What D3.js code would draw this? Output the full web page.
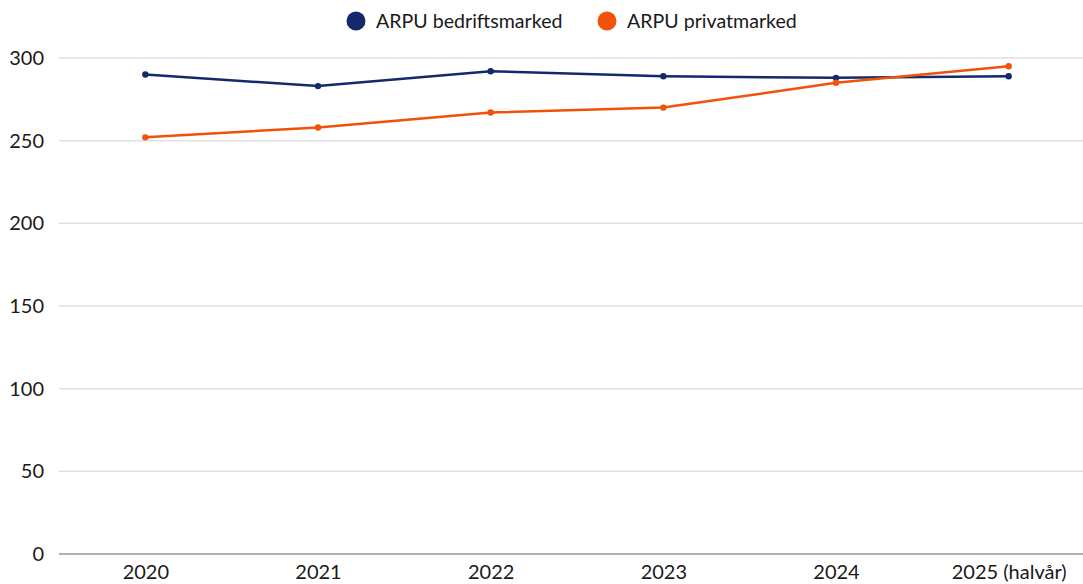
<!DOCTYPE html>
<html>
<head>
<meta charset="utf-8">
<script src="https://d3js.org/d3.v7.min.js"></script>
<style>
  body { margin: 0; background: #fff; font-family: Lato, sans-serif; overflow: hidden; }
  .grid line { stroke: #e0e0e0; stroke-width: 1.5px; }
  .tick text { fill: #1a1a1a; font-size: 20px; font-family: Lato, sans-serif; }
</style>
</head>
<body>
<div id="chart"></div>
<script>
var years = ["2020", "2021", "2022", "2023", "2024", "2025 (halvår)"];
var bedrift = [290, 283, 292, 289, 288, 289];
var privat = [252, 258, 267, 270, 285, 295];
var yTicks = [0, 50, 100, 150, 200, 250, 300];

var width = 1083, height = 584;
// plot area (note: "top" is reserved on window, so use other names)
var plotLeft = 59, plotRight = 1095, plotTop = 58, plotBottom = 554;

var svg = d3.select("#chart").append("svg")
  .attr("width", width)
  .attr("height", height);

var x = d3.scalePoint().domain(years).range([plotLeft, plotRight]).padding(0.5);
var y = d3.scaleLinear().domain([0, 300]).range([plotBottom, plotTop]);

// gridlines
svg.append("g")
  .attr("class", "grid")
  .selectAll("line")
  .data(yTicks.filter(function (d) { return d > 0; }))
  .enter().append("line")
  .attr("x1", plotLeft).attr("x2", width)
  .attr("y1", function (d) { return y(d); })
  .attr("y2", function (d) { return y(d); });

// baseline
svg.append("line")
  .attr("x1", plotLeft).attr("x2", width)
  .attr("y1", y(0)).attr("y2", y(0))
  .attr("stroke", "#999").attr("stroke-width", 1.5);

// y labels
var yAxis = svg.append("g")
  .attr("transform", "translate(" + (plotLeft - 15) + ",0)")
  .call(d3.axisLeft(y).tickValues(yTicks).tickSize(0).tickPadding(0));
yAxis.select(".domain").remove();

// x labels
var xAxis = svg.append("g")
  .attr("transform", "translate(0," + plotBottom + ")")
  .call(d3.axisBottom(x).tickSize(0).tickPadding(11));
xAxis.select(".domain").remove();

var series = [
  { name: "ARPU bedriftsmarked", values: bedrift, color: "#14296b" },
  { name: "ARPU privatmarked", values: privat, color: "#ef5208" }
];

var line = d3.line()
  .x(function (d, i) { return x(years[i]); })
  .y(function (d) { return y(d); });

series.forEach(function (s) {
  svg.append("path")
    .datum(s.values)
    .attr("fill", "none")
    .attr("stroke", s.color)
    .attr("stroke-width", 2.5)
    .attr("d", line);
  svg.selectAll(null)
    .data(s.values)
    .enter().append("circle")
    .attr("cx", function (d, i) { return x(years[i]); })
    .attr("cy", function (d) { return y(d); })
    .attr("r", 3.2)
    .attr("fill", s.color);
});

// legend
var legendX = [356, 607];
var legend = svg.append("g");
series.forEach(function (s, i) {
  legend.append("circle")
    .attr("cx", legendX[i]).attr("cy", 21).attr("r", 9.5)
    .attr("fill", s.color);
  legend.append("text")
    .attr("x", legendX[i] + 20).attr("y", 21)
    .attr("dy", "0.35em")
    .attr("font-size", 19.6)
    .attr("fill", "#1a1a1a")
    .text(s.name);
});
</script>
</body>
</html>
